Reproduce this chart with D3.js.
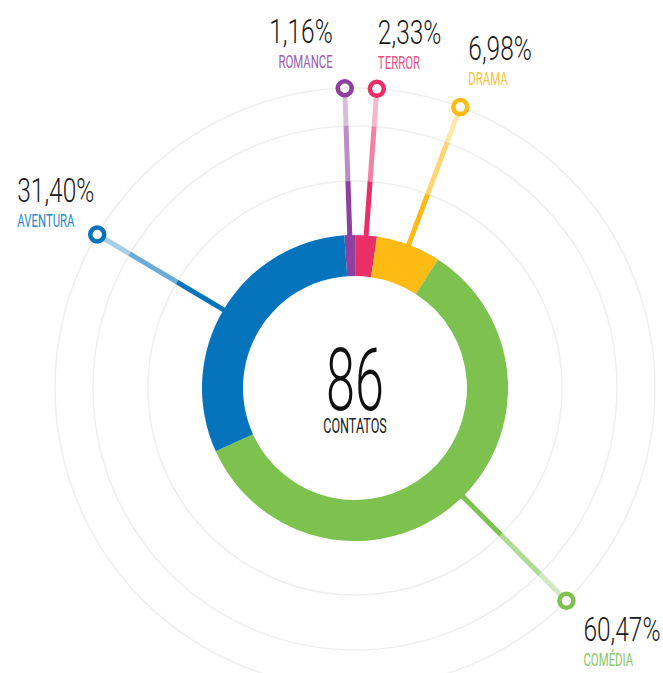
<!DOCTYPE html>
<html>
<head>
<meta charset="utf-8">
<script src="https://cdn.jsdelivr.net/npm/d3@7"></script>
<style>
  html, body { margin: 0; padding: 0; background: #ffffff; }
  svg { display: block; }
  text { font-family: Roboto, "Open Sans", sans-serif; }
</style>
</head>
<body>
<script>
// ---------- data ----------
const categories = ["ROMANCE", "TERROR", "DRAMA", "COMÉDIA", "AVENTURA"];
const values = [1.16, 2.33, 6.98, 60.47, 31.40];
const colors = ["#8E3F9F", "#EA2E66", "#FDBB14", "#7DC14F", "#0574BC"];
const labelColors = ["#9B5AAE", "#E8527E", "#F8C33C", "#8CC864", "#2B86C6"];
const totalValue = 86;
const totalLabel = "CONTATOS";
const ringRadii = [207, 262, 300];

// ---------- layout ----------
const W = 663, H = 673;
const cx = 355, cy = 388;
const outerR = 153, innerR = 112;
const markerR = 300;
const startDeg = -4;
// leader angle shift (deg) and label placement relative to marker
const leaderShift = [0, 0, 0, -4, 0];
const labelPos = [
  { dx: -12, dy: -45, anchor: "end" },
  { dx: 1, dy: -45, anchor: "start" },
  { dx: 8, dy: -47, anchor: "start" },
  { dx: 17, dy: 40, anchor: "start" },
  { dx: -80, dy: -33, anchor: "start" }
];

const svg = d3.select("body").append("svg").attr("width", W).attr("height", H);
const g = svg.append("g").attr("transform", `translate(${cx},${cy})`);

// background rings
g.selectAll("circle.bg").data(ringRadii).join("circle")
  .attr("class", "bg").attr("r", d => d)
  .attr("fill", "none").attr("stroke", "#efefef").attr("stroke-width", 1.5);

const rad = d => d * Math.PI / 180;
const pie = d3.pie().sort(null).value(d => d)
  .startAngle(rad(startDeg)).endAngle(rad(startDeg) + 2 * Math.PI);
const arcs = pie(values);

const pt = (a, r) => [Math.sin(a) * r, -Math.cos(a) * r];

// leaders
const bandOpacity = [1, 0.6, 0.35];
arcs.forEach((a, i) => {
  const ang = (a.startAngle + a.endAngle) / 2 + rad(leaderShift[i]);
  const p1 = pt(ang, markerR);
  const bounds = [120, ringRadii[0], ringRadii[1], markerR];
  for (let b = 0; b < 3; b++) {
    const s = pt(ang, bounds[b]), e = pt(ang, bounds[b + 1]);
    g.append("line")
      .attr("x1", s[0]).attr("y1", s[1]).attr("x2", e[0]).attr("y2", e[1])
      .attr("stroke", colors[i]).attr("stroke-opacity", bandOpacity[b])
      .attr("stroke-width", 5);
  }
  a.marker = p1;
});

// donut
const arcGen = d3.arc().innerRadius(innerR).outerRadius(outerR);
g.selectAll("path.slice").data(arcs).join("path")
  .attr("class", "slice").attr("d", arcGen).attr("fill", (d, i) => colors[i]);

// markers
g.selectAll("circle.marker").data(arcs).join("circle")
  .attr("class", "marker")
  .attr("cx", d => d.marker[0]).attr("cy", d => d.marker[1])
  .attr("r", 7).attr("fill", "#fff")
  .attr("stroke", (d, i) => colors[i]).attr("stroke-width", 4.5);

// labels
const fmt = v => v.toFixed(2).replace(".", ",") + "%";
arcs.forEach((a, i) => {
  const lp = labelPos[i];
  const x = a.marker[0] + lp.dx, y = a.marker[1] + lp.dy;
  const lg = g.append("g").attr("transform", `translate(${x},${y})`);
  lg.append("g").attr("transform", "scale(0.72,1)")
    .append("text").attr("text-anchor", lp.anchor)
    .attr("font-size", 34).attr("font-weight", 300).attr("fill", "#1b1b1b")
    .text(fmt(values[i]));
  lg.append("g").attr("transform", "translate(0,25) scale(0.6,1)")
    .append("text").attr("text-anchor", lp.anchor)
    .attr("font-size", 19).attr("font-weight", 400).attr("fill", labelColors[i])
    .text(categories[i]);
});

// center
const cg = g.append("g");
cg.append("g").attr("transform", "translate(0,22) scale(0.6,1)")
  .append("text").attr("text-anchor", "middle")
  .attr("font-size", 87).attr("font-weight", 300).attr("fill", "#111")
  .text(totalValue);
cg.append("g").attr("transform", "translate(0,45) scale(0.6,1)")
  .append("text").attr("text-anchor", "middle")
  .attr("font-size", 21).attr("font-weight", 400).attr("fill", "#222")
  .text(totalLabel);
</script>
</body>
</html>
